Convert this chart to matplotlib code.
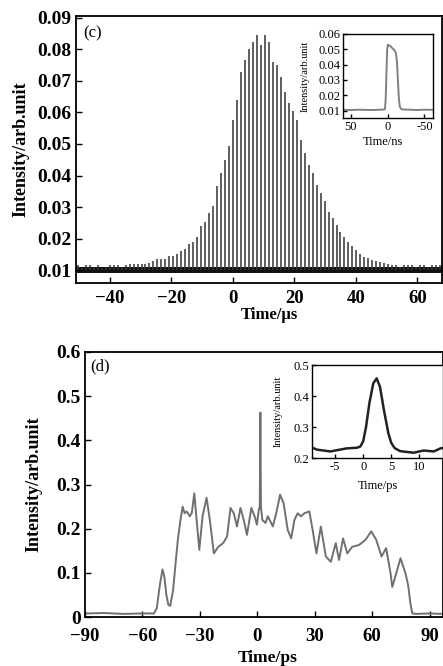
import numpy as np
import matplotlib
matplotlib.use('Agg')
import matplotlib.pyplot as plt

plt.rcParams['font.family'] = 'serif'
plt.rcParams['font.serif'] = ['Liberation Serif', 'DejaVu Serif']

# ---- (c) pulse train, heights of each pulse (arb.unit)
pulse_t0 = -51.7     # time of first pulse, us
pulse_period = 1.294 # us
pulse_heights = [0.0112, 0.0118, 0.0108, 0.0117, 0.0118, 0.0110, 0.0118, 0.0109, 0.0112, 0.0118,
                 0.0118, 0.0118, 0.0110, 0.0118, 0.0119, 0.0120, 0.0120, 0.0121, 0.0121, 0.0122,
                 0.0131, 0.0135, 0.0135, 0.0135, 0.0146, 0.0146, 0.0152, 0.0161, 0.0167, 0.0184,
                 0.0191, 0.0207, 0.0239, 0.0254, 0.0281, 0.0304, 0.0368, 0.0408, 0.0448, 0.0494,
                 0.0577, 0.0640, 0.0728, 0.0767, 0.0799, 0.0823, 0.0846, 0.0814, 0.0846, 0.0823,
                 0.0760, 0.0751, 0.0712, 0.0663, 0.0630, 0.0603, 0.0575, 0.0511, 0.0471, 0.0434,
                 0.0407, 0.0370, 0.0344, 0.0318, 0.0286, 0.0265, 0.0244, 0.0222, 0.0207, 0.0191,
                 0.0177, 0.0164, 0.0152, 0.0143, 0.0138, 0.0133, 0.0130, 0.0127, 0.0122, 0.0120,
                 0.0118, 0.0117, 0.0110, 0.0118, 0.0116, 0.0118, 0.0110, 0.0117, 0.0118, 0.0112,
                 0.0118, 0.0117, 0.0118, 0.0116]
noise_base = 0.0101
noise_lo = 0.0092
noise_hi = 0.0112

# inset (c): single pulse, ns
c_in_t = [60, 50, 40, 30, 20, 10, 5, 3.5, 2.5, 1.5, 0.5, -0.5, -2, -4, -6, -8, -10, -11.5,
          -12.5, -13.5, -14.5, -15.5, -16.5, -18, -20, -30, -40, -50, -62]
c_in_I = [0.0105, 0.0104, 0.0106, 0.0105, 0.0104, 0.0106, 0.0107, 0.011, 0.018, 0.035, 0.050,
          0.053, 0.0525, 0.052, 0.051, 0.050, 0.049, 0.047, 0.043, 0.035, 0.025, 0.017, 0.013,
          0.0112, 0.0108, 0.0106, 0.0104, 0.0106, 0.0105]

# ---- (d) ps-scale profile
d_t = [-90, -80, -70, -60, -54, -52.5, -51, -49.5, -48.5, -47.5, -46.5, -45.5, -44, -42.5, -41.5,
       -40.3, -39.0, -38.0, -36.9, -35.2, -34.2, -32.9, -31.7, -30.3, -28.6, -26.5, -24.8, -22.7,
       -20.4, -17.9, -15.8, -14.0, -12.3, -10.6, -8.8, -7.1, -5.4, -3.1, -1.4, -0.2, 0.8, 1.3, 1.6,
       1.9, 2.6, 4.3, 5.5, 8.1, 9.9, 11.9, 13.7, 15.9, 17.7, 19.4, 21.1, 22.8, 24.6, 27.2, 28.9,
       30.9, 33.2, 35.8, 38.4, 41.0, 42.7, 44.8, 47.0, 49.6, 53.1, 56.6, 59.5, 62.1, 64.9, 67.3,
       69.6, 70.5, 72.0, 74.8, 77.4, 78.8, 80.0, 81.0, 83, 90, 97]
d_I = [0.008, 0.009, 0.007, 0.008, 0.008, 0.02, 0.07, 0.108, 0.09, 0.05, 0.028, 0.025, 0.06, 0.13,
       0.175, 0.215, 0.25, 0.235, 0.239, 0.228, 0.236, 0.28, 0.22, 0.152, 0.228, 0.27, 0.22, 0.144,
       0.159, 0.167, 0.182, 0.247, 0.235, 0.205, 0.247, 0.22, 0.186, 0.247, 0.228, 0.209, 0.243,
       0.25, 0.463, 0.25, 0.22, 0.213, 0.228, 0.205, 0.235, 0.277, 0.258, 0.197, 0.178, 0.22, 0.235,
       0.228, 0.235, 0.239, 0.197, 0.144, 0.205, 0.137, 0.125, 0.167, 0.129, 0.178, 0.144, 0.159,
       0.163, 0.175, 0.194, 0.175, 0.137, 0.156, 0.099, 0.068, 0.09, 0.133, 0.099, 0.072, 0.03,
       0.008, 0.007, 0.008, 0.007]

# inset (d): autocorrelation, ps
d_in_t = [-9.2, -8.3, -5.9, -2.9, -1.1, -0.5, 0.0, 0.5, 1.1, 1.8, 2.4, 3.0, 3.7, 4.5, 5.0, 5.6,
          6.6, 9.0, 10.8, 12.6, 13.8, 14.2]
d_in_I = [0.235, 0.228, 0.222, 0.232, 0.234, 0.238, 0.255, 0.30, 0.377, 0.441, 0.457, 0.43, 0.355,
          0.28, 0.25, 0.233, 0.223, 0.218, 0.225, 0.222, 0.232, 0.233]

W, H = 443, 666
fig = plt.figure(figsize=(W / 100, H / 100), dpi=100)

def box(l, t, r, b):
    return [l / W, 1 - b / H, (r - l) / W, (b - t) / H]

def style(ax, size, bold, lw=1.3):
    for s in ax.spines.values():
        s.set_linewidth(lw)
    ax.tick_params(direction='in', labelsize=size, length=4, width=1, pad=3)
    for lab in ax.get_xticklabels() + ax.get_yticklabels():
        lab.set_fontweight('bold' if bold else 'normal')

# ---------------- (c)
ax1 = fig.add_axes(box(76, 16, 442, 283))
tp = pulse_t0 + pulse_period * np.arange(len(pulse_heights))
ax1.fill_between([-60, 80], noise_lo, noise_hi, color='#111111', lw=0)
ax1.vlines(tp, noise_base, pulse_heights, color='#333333', lw=1.1)
ax1.set_xlim(-51, 68)
ax1.set_ylim(0.006, 0.0905)
ax1.set_xticks([-40, -20, 0, 20, 40, 60])
ax1.set_yticks([0.01, 0.02, 0.03, 0.04, 0.05, 0.06, 0.07, 0.08, 0.09])
ax1.set_yticklabels(['0.01', '0.02', '0.03', '0.04', '0.05', '0.06', '0.07', '0.08', '0.09'])
style(ax1, 14, True)
ax1.tick_params(axis='x', pad=5, labelsize=13.5)
ax1.set_ylabel('Intensity/arb.unit', fontsize=13, fontweight='bold')
ax1.yaxis.set_label_coords(-0.128, 0.5)
ax1.set_xlabel('Time/µs', fontsize=12, fontweight='bold')
ax1.xaxis.set_label_coords(0.529, -0.09)
ax1.text(0.019, 0.966, '(c)', transform=ax1.transAxes, fontsize=12, va='top', ha='left')

ax1i = fig.add_axes(box(343.3, 34, 433.3, 118.3))
ax1i.plot(c_in_t, c_in_I, color='#808080', lw=1.4)
ax1i.set_xlim(60, -62)
ax1i.set_ylim(0.005, 0.06)
ax1i.set_xticks([50, 0, -50])
ax1i.set_xticklabels(['50', '0', '-50'])
ax1i.set_yticks([0.01, 0.02, 0.03, 0.04, 0.05, 0.06])
ax1i.set_yticklabels(['0.01', '0.02', '0.03', '0.04', '0.05', '0.06'])
style(ax1i, 9, False, lw=1.0)
ax1i.tick_params(length=3, pad=2)
ax1i.set_ylabel('Intensity/arb.unit', fontsize=7.5)
ax1i.yaxis.set_label_coords(-0.37, 0.5)
ax1i.set_xlabel('Time/ns', fontsize=9)
ax1i.xaxis.set_label_coords(0.44, -0.21)

# ---------------- (d)
ax2 = fig.add_axes(box(85, 352, 443, 617))
ax2.plot(d_t, d_I, color='#707070', lw=1.4)
ax2.set_xlim(-90, 97)
ax2.set_ylim(0, 0.6)
ax2.set_xticks([-90, -60, -30, 0, 30, 60, 90])
ax2.set_yticks([0, 0.1, 0.2, 0.3, 0.4, 0.5, 0.6])
ax2.set_yticklabels(['0', '0.1', '0.2', '0.3', '0.4', '0.5', '0.6'])
style(ax2, 14, True)
ax2.tick_params(axis='x', pad=8, labelsize=13.5)
ax2.set_ylabel('Intensity/arb.unit', fontsize=13, fontweight='bold')
ax2.yaxis.set_label_coords(-0.12, 0.5)
ax2.set_xlabel('Time/ps', fontsize=12.5, fontweight='bold')
ax2.xaxis.set_label_coords(0.51, -0.125)
ax2.text(0.014, 0.976, '(d)', transform=ax2.transAxes, fontsize=12, va='top', ha='left')

ax2i = fig.add_axes(box(311.7, 365, 442.7, 458.3))
ax2i.plot(d_in_t, d_in_I, color='#222222', lw=1.8)
ax2i.set_xlim(-9.2, 14.2)
ax2i.set_ylim(0.2, 0.5)
ax2i.set_xticks([-5, 0, 5, 10])
ax2i.set_xticklabels(['-5', '0', '5', '10'])
ax2i.set_yticks([0.2, 0.3, 0.4, 0.5])
style(ax2i, 9, False, lw=1.0)
ax2i.tick_params(length=3, pad=2)
ax2i.set_ylabel('Intensity/arb.unit', fontsize=7.5)
ax2i.yaxis.set_label_coords(-0.22, 0.5)
ax2i.set_xlabel('Time/ps', fontsize=9)
ax2i.xaxis.set_label_coords(0.508, -0.23)

fig.savefig('out.png', dpi=100)
